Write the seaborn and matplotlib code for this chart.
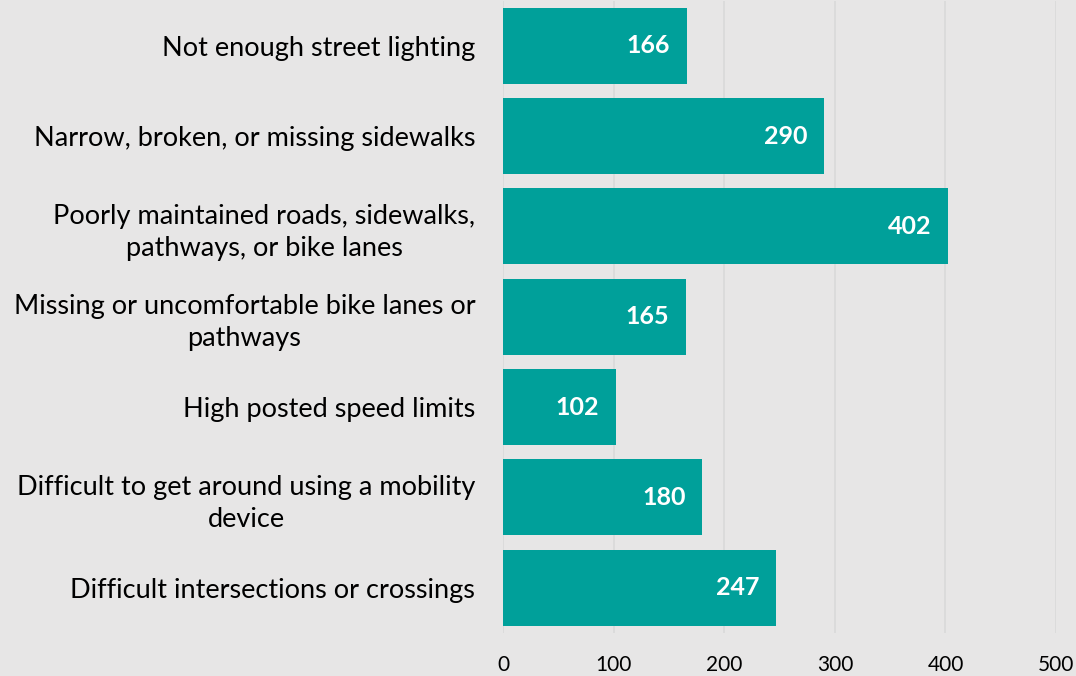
import matplotlib
matplotlib.use("Agg")
import matplotlib.pyplot as plt
import seaborn as sns
import pandas as pd

# Chart data
categories = [
    "Not enough street lighting",
    "Narrow, broken, or missing sidewalks",
    "Poorly maintained roads, sidewalks,\npathways, or bike lanes",
    "Missing or uncomfortable bike lanes or\npathways",
    "High posted speed limits",
    "Difficult to get around using a mobility\ndevice",
    "Difficult intersections or crossings",
]
counts = [166, 290, 402, 165, 102, 180, 247]
x_ticks = [0, 100, 200, 300, 400, 500]

df = pd.DataFrame({"category": categories, "count": counts})

bg = "#E7E6E6"
bar_color = "#00A09A"

sns.set_style("whitegrid")
plt.rcParams["font.family"] = ["Lato", "DejaVu Sans"]

fig = plt.figure(figsize=(10.76, 6.76), dpi=100, facecolor=bg)
ax = fig.add_axes([0.4675, 0.064, 0.514, 0.935])
ax.set_facecolor(bg)

sns.barplot(data=df, y="category", x="count", color=bar_color,
            saturation=1, width=0.84, linewidth=0, ax=ax)

ax.set_xlim(0, 500)
ax.set_xticks(x_ticks)
ax.set_xlabel("")
ax.set_ylabel("")
ax.grid(axis="x", color="#D9D9D9", linewidth=1.2)
ax.grid(axis="y", visible=False)
for s in ax.spines.values():
    s.set_visible(False)
ax.tick_params(axis="both", length=0, colors="#000000")
ax.tick_params(axis="x", pad=16, labelsize=15)
ax.tick_params(axis="y", pad=20, labelsize=19.5)
for lbl in ax.get_yticklabels():
    lbl.set_horizontalalignment("right")
    lbl.set_multialignment("center")
    lbl.set_linespacing(1.35)

for i, v in enumerate(counts):
    ax.text(v - 15, i, str(v), ha="right", va="center", color="white",
            fontsize=18, fontweight="bold")

fig.savefig("out.png", dpi=100, facecolor=bg)
